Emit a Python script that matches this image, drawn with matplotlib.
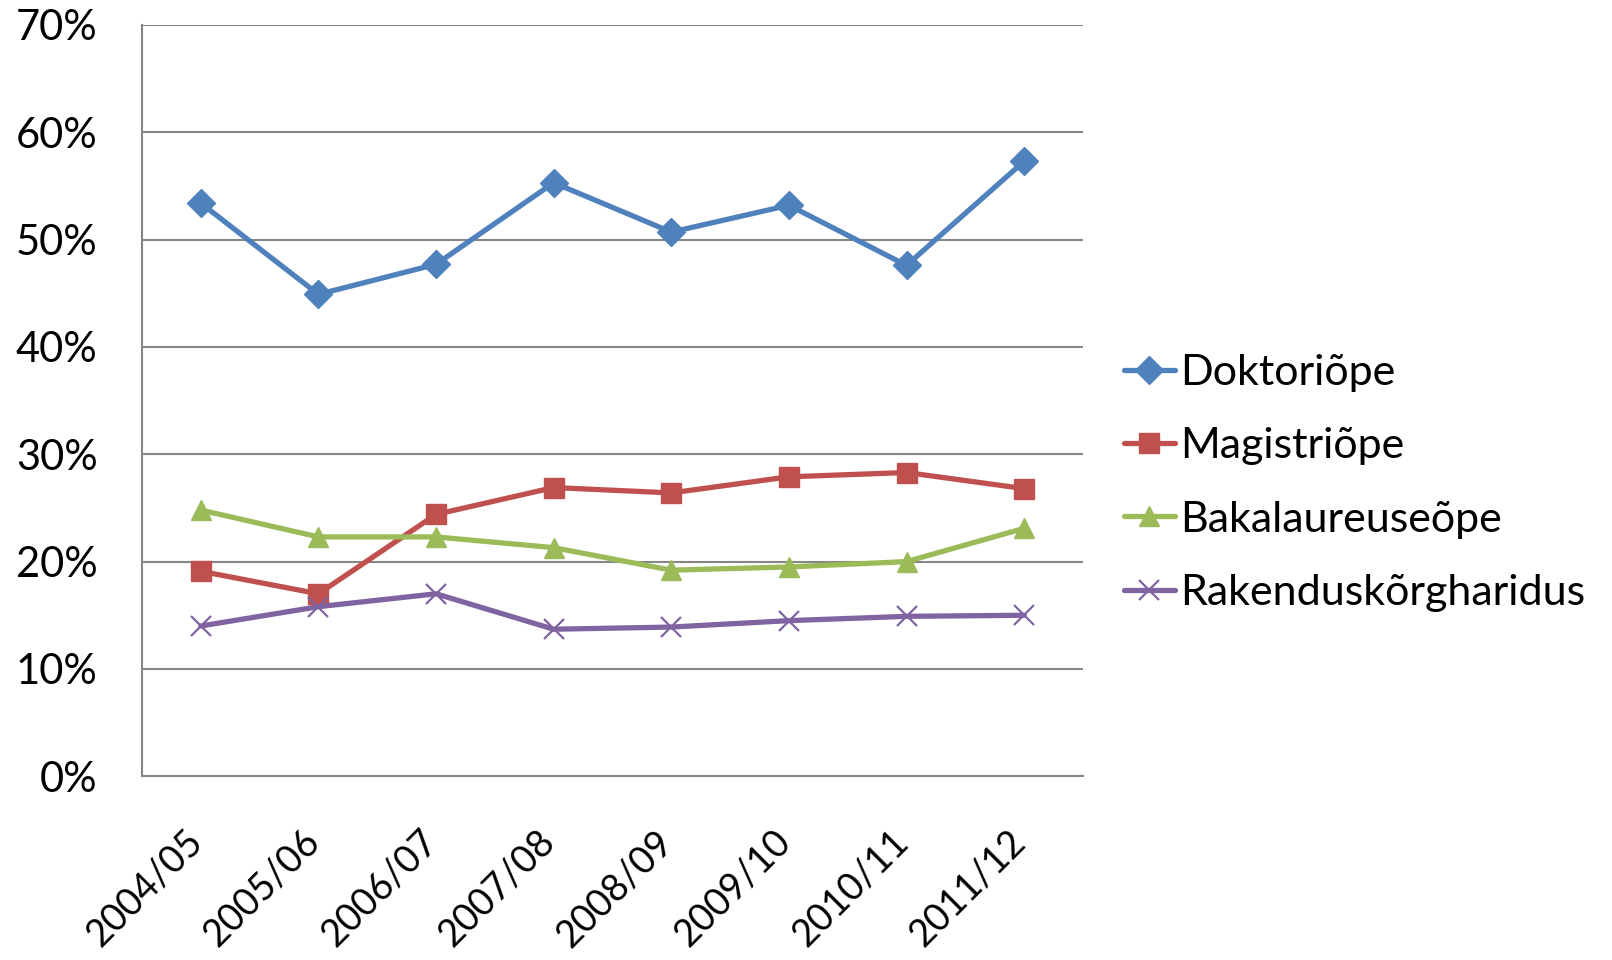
import matplotlib
matplotlib.use("Agg")
import matplotlib.pyplot as plt
from matplotlib.ticker import FuncFormatter
from matplotlib.transforms import ScaledTranslation

plt.rcParams['font.family'] = ['Lato', 'DejaVu Sans']

years = ["2004/05", "2005/06", "2006/07", "2007/08",
         "2008/09", "2009/10", "2010/11", "2011/12"]

doktoriope = [53.4, 44.9, 47.7, 55.3, 50.7, 53.2, 47.6, 57.3]
magistriope = [19.1, 17.0, 24.4, 26.9, 26.4, 27.9, 28.3, 26.8]
bakalaureuseope = [24.8, 22.3, 22.3, 21.3, 19.2, 19.5, 20.0, 23.1]
rakenduskorgharidus = [14.0, 15.8, 17.0, 13.7, 13.9, 14.5, 14.9, 15.0]

series_names = ["Doktoriõpe", "Magistriõpe", "Bakalaureuseõpe", "Rakenduskõrgharidus"]
colors = ["#4F81BD", "#C0504D", "#9BBB59", "#8064A2"]
markers = ["D", "s", "^", "x"]

fig = plt.figure(figsize=(16.12, 9.6), dpi=100)
ax = fig.add_axes([0.0881, 0.1914, 0.5837, 0.7826])

x = list(range(len(years)))
for vals, name, c, m in zip([doktoriope, magistriope, bakalaureuseope, rakenduskorgharidus],
                            series_names, colors, markers):
    if m == "x":
        ax.plot(x, vals, color=c, lw=3.8, marker=m, ms=14.5, mew=1.6,
                mec=c, label=name, solid_capstyle="round")
    else:
        ax.plot(x, vals, color=c, lw=3.8, marker=m, ms=14.5,
                mfc=c, mec=c, label=name, solid_capstyle="round")

ax.set_xlim(-0.5, len(years) - 0.5)
ax.set_ylim(0, 70)
ax.set_yticks(range(0, 71, 10))
ax.yaxis.set_major_formatter(FuncFormatter(lambda v, p: f"{v:.0f}%"))
ax.set_xticks(x)
ax.set_xticklabels(years, rotation=45, ha="right", va="top")

ax.grid(axis="y", color="#868686", lw=1.5)
ax.set_axisbelow(True)
for s in ["top", "right"]:
    ax.spines[s].set_visible(False)
for s in ["left", "bottom"]:
    ax.spines[s].set_color("#868686")
    ax.spines[s].set_linewidth(1.5)

ax.tick_params(axis="both", length=0, colors="black")
ax.tick_params(axis="y", pad=32, labelsize=30)
ax.tick_params(axis="x", pad=34, labelsize=27)

# nudge the slanted year labels slightly to the right
shift = ScaledTranslation(6 / 72, 0, fig.dpi_scale_trans)
for lbl in ax.get_xticklabels():
    lbl.set_transform(lbl.get_transform() + shift)

fig.legend(loc="center left", bbox_to_anchor=(0.697, 0.497), frameon=False,
           fontsize=31, handlelength=1.2, handletextpad=0.12, labelspacing=0.82,
           borderaxespad=0, borderpad=0)

fig.savefig("out.png", dpi=100)
